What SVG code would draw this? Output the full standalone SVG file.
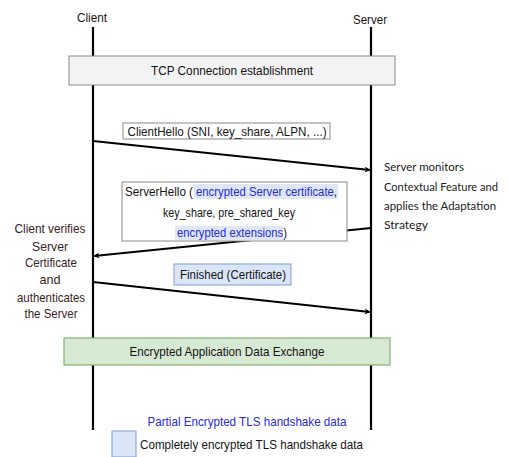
<svg xmlns="http://www.w3.org/2000/svg" width="508" height="457" viewBox="0 0 508 457">
  <style>
    .t { font-family: "Liberation Sans", Arial, sans-serif; font-size: 13px; fill: #141414; }
    .c { font-family: Lato, "Open Sans", sans-serif; font-size: 12px; fill: #222; }
    .n { font-family: "Liberation Sans", Arial, sans-serif; font-size: 13px; fill: #3a2426; }
    .blue { fill: #2a2ae0; }
    .ink { fill: #141414; }
    .life { stroke: #000; stroke-width: 2.2; }
    .msg { stroke: #000; stroke-width: 2; fill: none; marker-end: url(#arr); }
  </style>
  <defs>
    <marker id="arr" viewBox="0 0 10 10" refX="9" refY="5" markerWidth="6" markerHeight="6" orient="auto" markerUnits="userSpaceOnUse">
      <path d="M0,0 L10,5 L0,10 L3,5 Z" fill="#000"/>
    </marker>
  </defs>
  <rect width="508" height="457" fill="#fff"/>

  <g id="client">
    <text class="t" x="92" y="22" text-anchor="middle" textLength="30" lengthAdjust="spacingAndGlyphs">Client</text>
    <line class="life" x1="93" y1="27" x2="93" y2="430"/>
  </g>
  <g id="server">
    <text class="t" x="370" y="24" text-anchor="middle" textLength="34" lengthAdjust="spacingAndGlyphs">Server</text>
    <line class="life" x1="371" y1="27" x2="371" y2="430"/>
  </g>

  <g id="tcp">
    <rect x="69" y="56" width="326" height="29" fill="#f3f3f3" stroke="#8a8a8a" stroke-width="1"/>
    <text class="t" x="232" y="75" text-anchor="middle" textLength="162" lengthAdjust="spacingAndGlyphs">TCP Connection establishment</text>
  </g>

  <g id="connectors">
    <line class="msg" x1="93" y1="141" x2="370" y2="170"/>
    <line class="msg" x1="371" y1="228" x2="94" y2="256"/>
    <line class="msg" x1="93" y1="282" x2="370" y2="312"/>
  </g>

  <g id="client-hello">
    <rect x="123" y="123" width="207" height="16" fill="#fff" stroke="#8a8a8a" stroke-width="1"/>
    <text class="t" x="227" y="136" text-anchor="middle" textLength="199" lengthAdjust="spacingAndGlyphs">ClientHello (SNI, key_share, ALPN, ...)</text>
  </g>

  <g id="server-monitors">
    <text class="c" x="384" y="171" textLength="80" lengthAdjust="spacingAndGlyphs">Server monitors</text>
    <text class="c" x="384" y="191" textLength="114" lengthAdjust="spacingAndGlyphs">Contextual Feature and</text>
    <text class="c" x="384" y="210" textLength="112" lengthAdjust="spacingAndGlyphs">applies the Adaptation</text>
    <text class="c" x="384" y="229" textLength="44" lengthAdjust="spacingAndGlyphs">Strategy</text>
  </g>

  <g id="server-hello">
    <rect x="122" y="182" width="225" height="59" fill="#fff" stroke="#8a8a8a" stroke-width="1"/>
    <rect x="194" y="184" width="144" height="15" fill="#dde7f6"/>
    <rect x="175" y="226" width="108" height="14" fill="#dde7f6"/>
    <!-- first line: plain label, then the encrypted part in blue with its trailing comma -->
    <text class="t" x="125" y="196" textLength="68" lengthAdjust="spacingAndGlyphs">ServerHello (</text>
    <text class="t blue" x="196" y="196" textLength="141" lengthAdjust="spacingAndGlyphs">encrypted Server certificate<tspan class="ink">,</tspan></text>
    <text class="t" x="229" y="217" text-anchor="middle" textLength="132" lengthAdjust="spacingAndGlyphs">key_share, pre_shared_key</text>
    <text class="t blue" x="177" y="237" textLength="110" lengthAdjust="spacingAndGlyphs">encrypted extensions<tspan class="ink">)</tspan></text>
  </g>

  <g id="client-verifies">
    <text class="n" x="50" y="233" text-anchor="middle" textLength="71" lengthAdjust="spacingAndGlyphs">Client verifies</text>
    <text class="n" x="50" y="251" text-anchor="middle" textLength="36" lengthAdjust="spacingAndGlyphs">Server</text>
    <text class="n" x="51" y="267" text-anchor="middle" textLength="52" lengthAdjust="spacingAndGlyphs">Certificate</text>
    <text class="n" x="50" y="284" text-anchor="middle" textLength="21" lengthAdjust="spacingAndGlyphs">and</text>
    <text class="n" x="51" y="302" text-anchor="middle" textLength="68" lengthAdjust="spacingAndGlyphs">authenticates</text>
    <text class="n" x="51" y="318" text-anchor="middle" textLength="53" lengthAdjust="spacingAndGlyphs">the Server</text>
  </g>

  <g id="finished">
    <rect x="174" y="264" width="117" height="21" fill="#dae6f8" stroke="#7f9fd0" stroke-width="1"/>
    <text class="t" x="233" y="279" text-anchor="middle" textLength="106" lengthAdjust="spacingAndGlyphs">Finished (Certificate)</text>
  </g>

  <g id="app-data">
    <rect x="64" y="338" width="326" height="27" fill="#d6e9d3" stroke="#86b470" stroke-width="1.2"/>
    <text class="t" x="227" y="356" text-anchor="middle" textLength="195" lengthAdjust="spacingAndGlyphs">Encrypted Application Data Exchange</text>
  </g>

  <g id="legend">
    <text class="t blue" x="247" y="426" text-anchor="middle" textLength="199" lengthAdjust="spacingAndGlyphs">Partial Encrypted TLS handshake data</text>
    <rect x="112" y="431" width="24" height="26" fill="#dae6f8" stroke="#7f9fd0" stroke-width="1"/>
    <text class="t" x="140" y="449" textLength="223" lengthAdjust="spacingAndGlyphs">Completely encrypted TLS handshake data</text>
  </g>
</svg>
